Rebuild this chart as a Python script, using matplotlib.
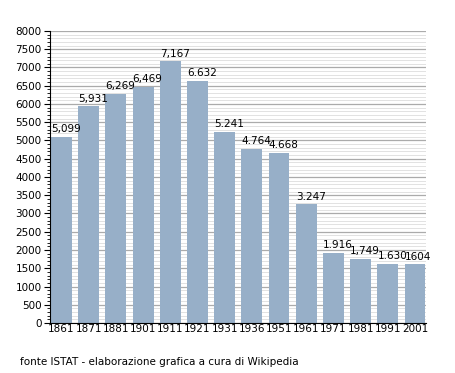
import numpy as np
import matplotlib.pyplot as plt
from matplotlib.ticker import MultipleLocator

#-- census years and population
years  = ['1861', '1871', '1881', '1901', '1911', '1921', '1931',
          '1936', '1951', '1961', '1971', '1981', '1991', '2001']
values = [5099, 5931, 6269, 6469, 7167, 6632, 5241,
          4764, 4668, 3247, 1916, 1749, 1630, 1604]
labels = ['5,099', '5,931', '6,269', '6,469', '7,167', '6.632', '5.241',
          '4.764', '4.668', '3.247', '1.916', '1,749', '1.630', '1604']

x = np.arange(len(years))

fig = plt.figure(figsize=(4.55, 3.73), dpi=100)
ax = fig.add_axes([0.11, 0.134, 0.826, 0.783])

#-- grid: major every 500, minor every 100
ax.yaxis.set_major_locator(MultipleLocator(500))
ax.yaxis.set_minor_locator(MultipleLocator(100))
ax.grid(axis='y', which='minor', color='#e2e2e2', linewidth=0.7, zorder=0)
ax.grid(axis='y', which='major', color='#ababab', linewidth=0.9, zorder=0)
ax.set_axisbelow(True)

ax.bar(x, values, width=0.77, color='#97afc8', zorder=2)

#-- value labels, left aligned on the bar
for xi, v, lab in zip(x, values, labels):
    ax.annotate(lab, (xi - 0.385, v), xytext=(0, 2), textcoords='offset points',
                ha='left', va='bottom', fontsize=7.5, zorder=3)

ax.set_xlim(-0.42, 13.4)
ax.set_ylim(0, 8000)
ax.set_xticks(x)
ax.set_xticklabels(years)
ax.tick_params(axis='x', length=0, labelsize=7.5, pad=1)
ax.tick_params(axis='y', which='major', length=4, labelsize=7.5, pad=2)
ax.tick_params(axis='y', which='minor', length=2)

for s in ['top', 'right']:
    ax.spines[s].set_visible(False)
ax.spines['left'].set_linewidth(0.8)
ax.spines['bottom'].set_linewidth(0.8)

fig.text(20/455, 1 - 362/373, 'fonte ISTAT - elaborazione grafica a cura di Wikipedia',
         fontsize=7.5, va='center', ha='left')

plt.savefig('out.png', dpi=100)
